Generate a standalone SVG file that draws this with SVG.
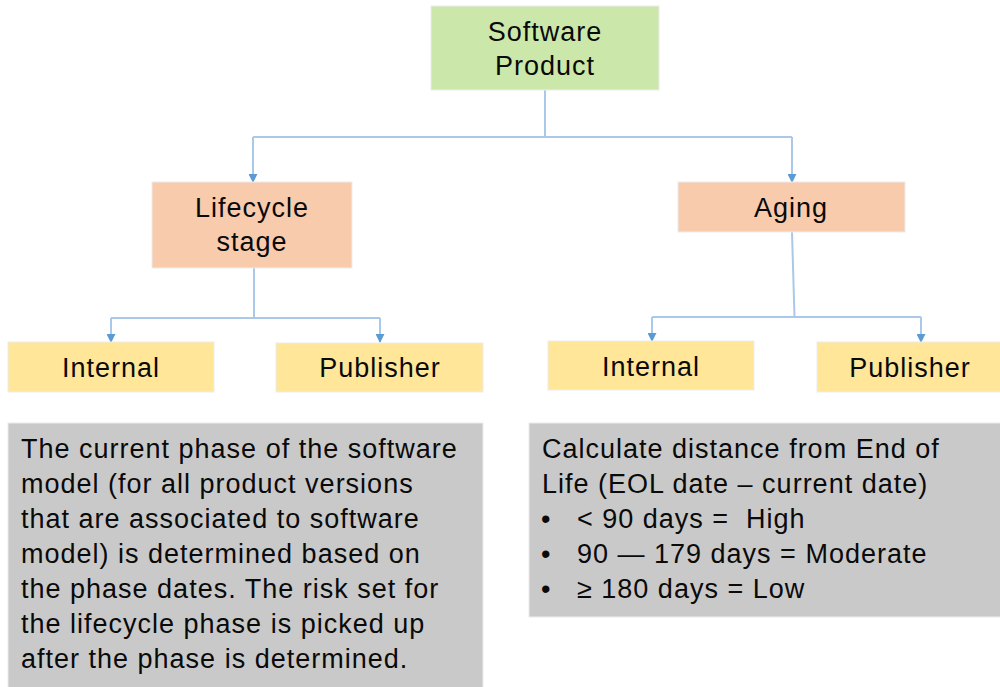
<svg xmlns="http://www.w3.org/2000/svg" width="1000" height="687" viewBox="0 0 1000 687">
<defs>
<style>
.t{font-family:"Liberation Sans",Arial,sans-serif;font-size:27px;fill:#0a0a0a;letter-spacing:1px}
.c{text-anchor:middle}
.pre{white-space:pre}
.green{fill:#cbe8aa}
.orange{fill:#f8cbad}
.yellow{fill:#ffe699}
.gray{fill:#c9c9c9}
.box{stroke:#ececec;stroke-width:1}
.conn{fill:none;stroke:#a9c8ea;stroke-width:2}
</style>
<marker id="arr" viewBox="0 0 10 10" refX="9" refY="5" markerWidth="9" markerHeight="9" markerUnits="userSpaceOnUse" orient="auto">
<path d="M0,0 L10,5 L0,10 z" fill="#5b9bd5"/>
</marker>
</defs>
<rect width="1000" height="687" fill="#ffffff"/>
<g id="connectors">
<path class="conn" d="M545,90 V137"/>
<path class="conn" d="M253,137 H792"/>
<path class="conn" d="M253,137 V182" marker-end="url(#arr)"/>
<path class="conn" d="M792,137 V182" marker-end="url(#arr)"/>
<path class="conn" d="M254,268 V318"/>
<path class="conn" d="M111,318 H380"/>
<path class="conn" d="M111,318 V342" marker-end="url(#arr)"/>
<path class="conn" d="M380,318 V342" marker-end="url(#arr)"/>
<path class="conn" d="M792,232 L794.5,317"/>
<path class="conn" d="M652,317 H921"/>
<path class="conn" d="M652,317 V341" marker-end="url(#arr)"/>
<path class="conn" d="M921,317 V342" marker-end="url(#arr)"/>
</g>
<g id="software-product">
<rect class="box green" x="431" y="6" width="228" height="84"/>
<text class="t c" x="545" y="41">Software</text>
<text class="t c" x="545" y="75">Product</text>
</g>
<g id="lifecycle-stage">
<rect class="box orange" x="152" y="182" width="200" height="86"/>
<text class="t c" x="252" y="217">Lifecycle</text>
<text class="t c" x="252" y="251">stage</text>
</g>
<g id="aging">
<rect class="box orange" x="678" y="182" width="227" height="50"/>
<text class="t c" x="791" y="217">Aging</text>
</g>
<g id="internal-left">
<rect class="box yellow" x="8" y="342" width="206" height="50"/>
<text class="t c" x="111" y="377">Internal</text>
</g>
<g id="publisher-left">
<rect class="box yellow" x="276" y="343" width="207" height="49"/>
<text class="t c" x="380" y="377">Publisher</text>
</g>
<g id="internal-right">
<rect class="box yellow" x="548" y="341" width="206" height="49"/>
<text class="t c" x="651" y="376">Internal</text>
</g>
<g id="publisher-right">
<rect class="box yellow" x="817" y="342" width="190" height="50"/>
<text class="t c" x="910" y="377">Publisher</text>
</g>
<g id="lifecycle-note">
<rect class="box gray" x="8" y="423" width="475" height="270"/>
<text class="t" x="21" y="458">The current phase of the software</text>
<text class="t" x="21" y="493">model (for all product versions</text>
<text class="t" x="21" y="528">that are associated to software</text>
<text class="t" x="21" y="563">model) is determined based on</text>
<text class="t" x="21" y="598">the phase dates. The risk set for</text>
<text class="t" x="21" y="633">the lifecycle phase is picked up</text>
<text class="t" x="21" y="668">after the phase is determined.</text>
</g>
<g id="aging-note">
<rect class="box gray" x="529" y="423" width="480" height="194"/>
<text class="t" x="542" y="458">Calculate distance from End of</text>
<text class="t" x="542" y="493">Life (EOL date – current date)</text>
<text class="t" x="541" y="528">•</text>
<text class="t pre" x="577" y="528" xml:space="preserve">&lt; 90 days =  High</text>
<text class="t" x="541" y="563">•</text>
<text class="t" x="577" y="563">90 — 179 days = Moderate</text>
<text class="t" x="541" y="598">•</text>
<text class="t" x="577" y="598">≥ 180 days = Low</text>
</g>
</svg>
